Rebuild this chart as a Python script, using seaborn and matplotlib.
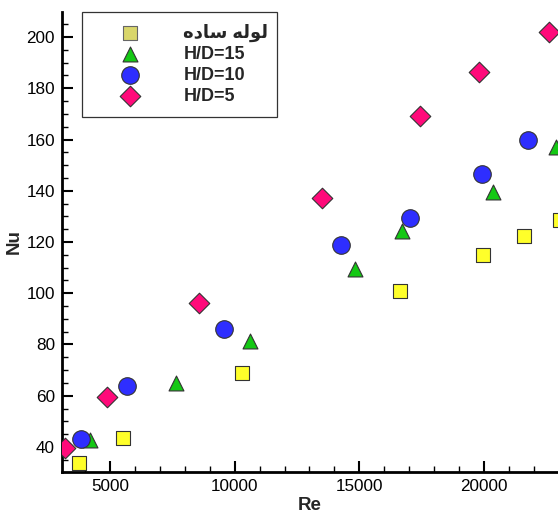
import numpy as np
import pandas as pd
import matplotlib
matplotlib.use("Agg")
import matplotlib.pyplot as plt
from matplotlib.ticker import MultipleLocator
import seaborn as sns

# ---- data ----
# Persian "لوله ساده" (plain tube), pre-shaped into presentation forms in visual order
plain_label = "\uFEE9\uFEA9\uFE8E\uFEB3 \uFEEA\uFEDF\uFEEE\uFEDF"
series_names = [plain_label, "H/D=15", "H/D=10", "H/D=5"]

re_plain = [3760, 5520, 10280, 16630, 19960, 21590, 23050]
nu_plain = [33.8, 43.5, 69.0, 100.9, 114.9, 122.4, 128.6]

re_hd15 = [4200, 7630, 10610, 14820, 16700, 20370, 22870]
nu_hd15 = [42.7, 65.0, 81.4, 109.3, 124.3, 139.6, 157.0]

re_hd10 = [3840, 5670, 9570, 14260, 17030, 19920, 21770]
nu_hd10 = [43.1, 63.8, 86.0, 118.8, 129.2, 146.5, 159.8]

re_hd5 = [3200, 4890, 8570, 13490, 17430, 19800, 22600]
nu_hd5 = [39.6, 59.6, 96.2, 137.3, 169.1, 186.3, 201.9]

x_ticks = [5000, 10000, 15000, 20000]
y_ticks = [40, 60, 80, 100, 120, 140, 160, 180, 200]

df = pd.concat([
    pd.DataFrame({"Re": re_plain, "Nu": nu_plain, "case": series_names[0]}),
    pd.DataFrame({"Re": re_hd15, "Nu": nu_hd15, "case": series_names[1]}),
    pd.DataFrame({"Re": re_hd10, "Nu": nu_hd10, "case": series_names[2]}),
    pd.DataFrame({"Re": re_hd5, "Nu": nu_hd5, "case": series_names[3]}),
], ignore_index=True)

palette = {series_names[0]: "#ffff2a", series_names[1]: "#14c814",
           series_names[2]: "#2e2eff", series_names[3]: "#ff0a7a"}
markers = {series_names[0]: "s", series_names[1]: "^",
           series_names[2]: "o", series_names[3]: "D"}
sizes = {series_names[0]: 100, series_names[1]: 115,
         series_names[2]: 160, series_names[3]: 110}

sns.set_style("white")
fam = ["Liberation Sans", "DejaVu Sans"]
plt.rcParams["font.family"] = fam

fig = plt.figure(figsize=(5.58, 5.17), dpi=100)
W, H = 558, 517
ax = fig.add_axes([62 / W, 45 / H, (W - 62) / W, (472 - 12) / H])

for name in series_names:
    sub = df[df["case"] == name]
    sns.scatterplot(data=sub, x="Re", y="Nu", ax=ax, color=palette[name],
                    marker=markers[name], s=sizes[name], edgecolor="#333333",
                    linewidth=0.8, label=name, zorder=3)

ax.set_xlim(3075, 22968)
ax.set_ylim(30.24, 209.76)
ax.set_xticks(x_ticks)
ax.set_yticks(y_ticks)
ax.xaxis.set_minor_locator(MultipleLocator(1000))
ax.yaxis.set_minor_locator(MultipleLocator(5))
ax.tick_params(axis="both", which="major", direction="in", length=8, width=1.5,
               labelsize=12.3, colors="black")
ax.tick_params(axis="both", which="minor", direction="in", length=4, width=1.0,
               colors="black")
ax.tick_params(axis="x", which="both", pad=5)
ax.tick_params(axis="y", which="both", pad=5)
ax.xaxis.set_ticks_position("bottom")
ax.yaxis.set_ticks_position("left")

for s in ["top", "right"]:
    ax.spines[s].set_visible(False)
for s in ["left", "bottom"]:
    ax.spines[s].set_color("black")
    ax.spines[s].set_linewidth(2.0)

ax.set_xlabel("Re", fontsize=13.5, fontweight="bold", labelpad=2)
ax.set_ylabel("Nu", fontsize=13.5, fontweight="bold", labelpad=3)

leg = ax.legend(loc="upper left",
                bbox_to_anchor=(82 / W, 1 - 110 / H, (277 - 82) / W, (110 - 12) / H),
                bbox_transform=fig.transFigure, mode="expand",
                frameon=True, fancybox=False, framealpha=1, edgecolor="#333333",
                borderaxespad=0, borderpad=0.65, labelspacing=0.22,
                handlelength=4.0, handletextpad=0.97,
                prop={"family": fam, "weight": "bold", "size": 13})
leg.get_frame().set_linewidth(0.9)
# legend square is drawn in a muted khaki tone in the reference
leg.legend_handles[0].set_facecolor("#d9d66b")
leg.legend_handles[0].set_edgecolor("#666666")

fig.savefig("out.png", dpi=100)
